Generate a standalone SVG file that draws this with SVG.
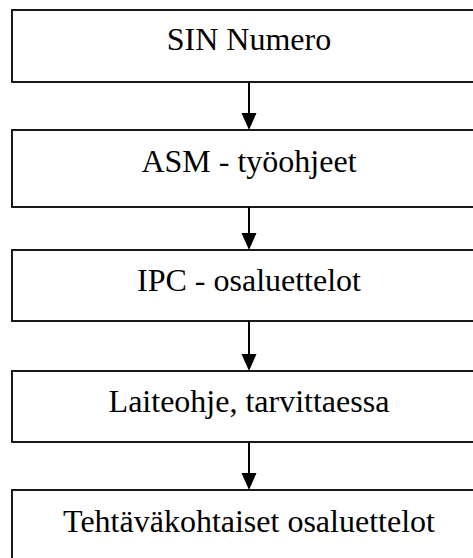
<svg xmlns="http://www.w3.org/2000/svg" width="473" height="558" viewBox="0 0 473 558">
  <style>
    .box { fill: #ffffff; stroke: #000000; stroke-width: 1.8; }
    .label { font-family: "Liberation Serif", "Times New Roman", serif; font-size: 32px; fill: #000000; text-anchor: middle; }
    .conn { stroke: #000000; stroke-width: 2; fill: none; }
    .head { fill: #000000; }
  </style>
  <rect width="473" height="558" fill="#ffffff"/>

  <g id="node-sin">
    <rect class="box" x="12" y="10" width="474" height="72"/>
    <text class="label" x="249" y="50">SIN Numero</text>
  </g>
  <g id="node-asm">
    <rect class="box" x="12" y="130" width="474" height="77"/>
    <text class="label" x="249" y="172">ASM - työohjeet</text>
  </g>
  <g id="node-ipc">
    <rect class="box" x="12" y="250" width="474" height="71"/>
    <text class="label" x="249" y="291">IPC - osaluettelot</text>
  </g>
  <g id="node-laiteohje">
    <rect class="box" x="12" y="371" width="474" height="71"/>
    <text class="label" x="249" y="412">Laiteohje, tarvittaessa</text>
  </g>
  <g id="node-tehtava">
    <rect class="box" x="12" y="490" width="474" height="80"/>
    <text class="label" x="249" y="532">Tehtäväkohtaiset osaluettelot</text>
  </g>

  <g id="connectors">
    <line class="conn" x1="249" y1="82" x2="249" y2="114"/>
    <polygon class="head" points="241.5,113 256.5,113 249,130"/>
    <line class="conn" x1="249" y1="207" x2="249" y2="234"/>
    <polygon class="head" points="241.5,233 256.5,233 249,250"/>
    <line class="conn" x1="249" y1="321" x2="249" y2="355"/>
    <polygon class="head" points="241.5,354 256.5,354 249,371"/>
    <line class="conn" x1="249" y1="442" x2="249" y2="474"/>
    <polygon class="head" points="241.5,473 256.5,473 249,490"/>
  </g>
</svg>
